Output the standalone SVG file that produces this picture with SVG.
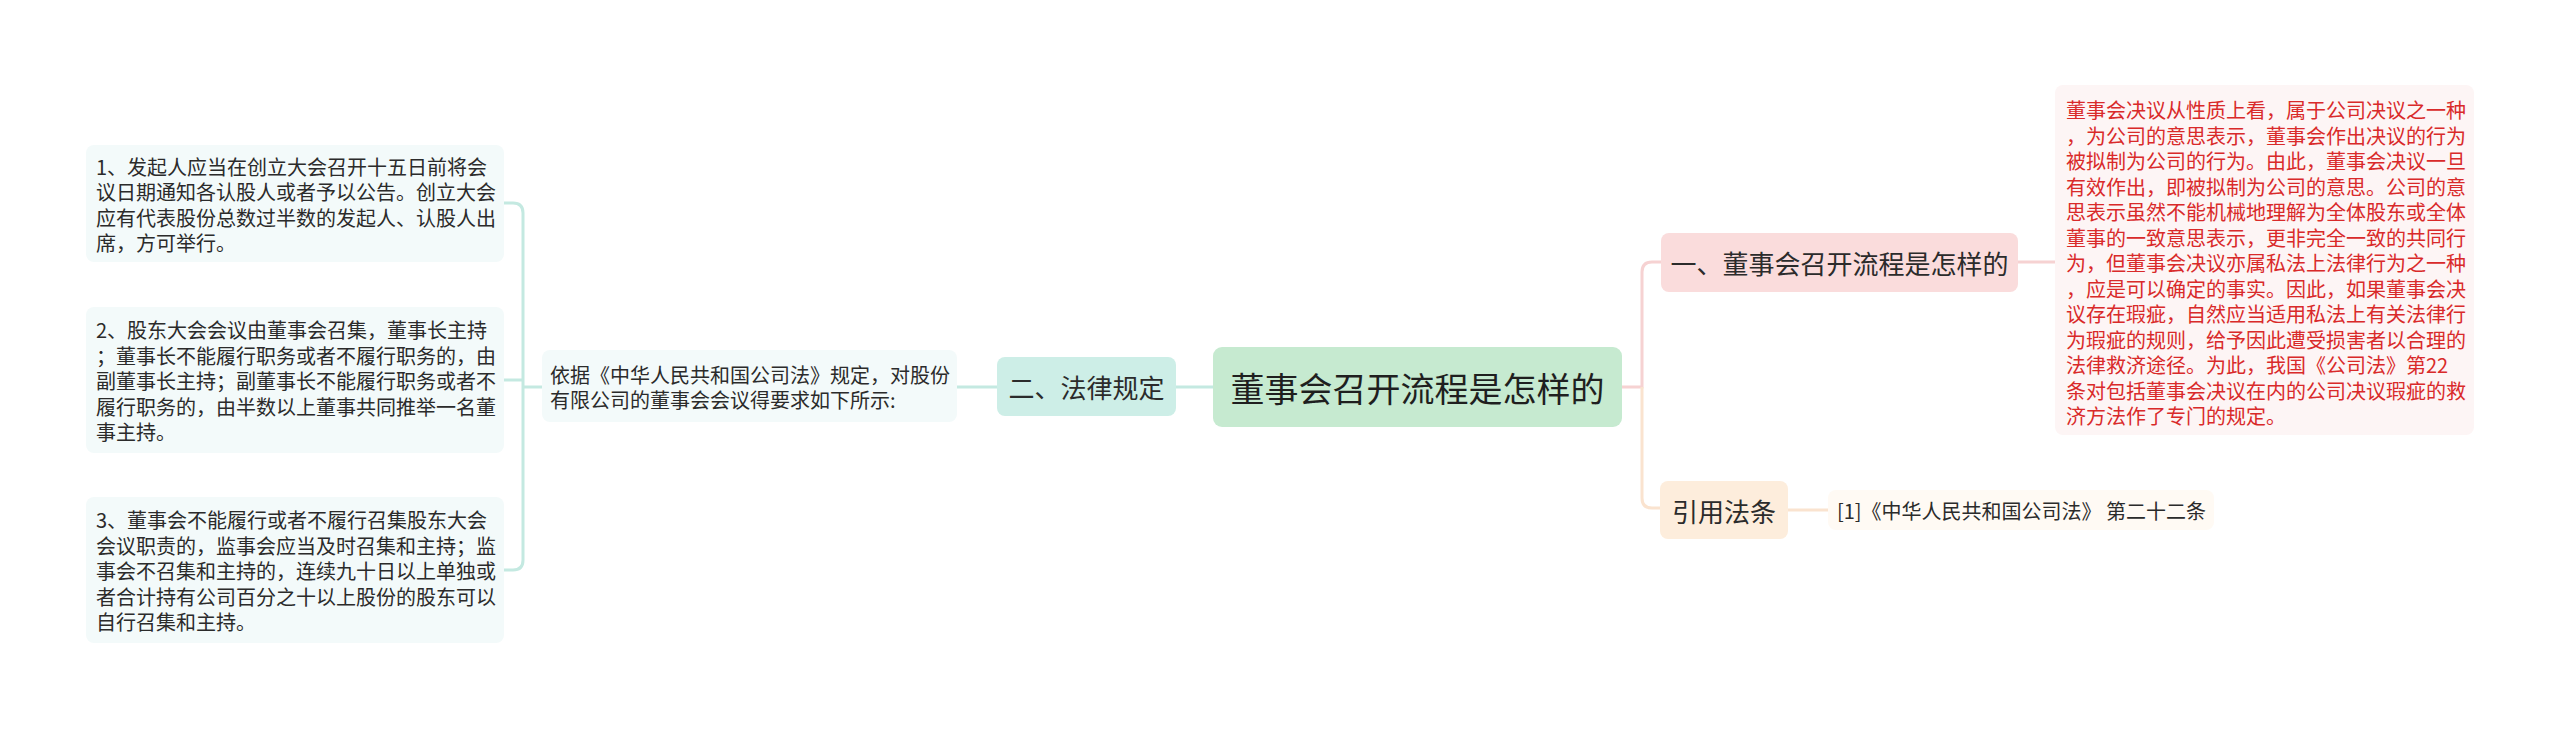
<svg xmlns="http://www.w3.org/2000/svg" width="2560" height="731" viewBox="0 0 2560 731">
<style>
text{font-family:"Noto Sans CJK SC","Noto Sans",sans-serif;dominant-baseline:central;fill:#2b2b2b}
.s{font-size:20px}
.m{font-size:26px;text-anchor:middle}
.c{font-size:34px;text-anchor:middle;fill:#1f1f1f}
.red{fill:#d92a2a}
.lt{fill:none;stroke:#c4e9e1;stroke-width:3}
.lp{fill:none;stroke:#f6d2d2;stroke-width:3}
.lo{fill:none;stroke:#fae3cf;stroke-width:3}
</style>
<rect width="2560" height="731" fill="#ffffff"/>
<g id="connectors">
<path class="lt" d="M504,203 H513 Q523,203 523,213 V560 Q523,570 513,570 H504"/>
<path class="lt" d="M504,380 H523"/>
<path class="lt" d="M523,387 H542"/>
<path class="lt" d="M957,387 H997"/>
<path class="lt" d="M1176,387 H1213"/>
<path class="lp" d="M1622,387 H1642 V272 Q1642,262 1652,262 H1661"/>
<path class="lo" d="M1642,387 V498 Q1642,508 1652,508 H1660"/>
<path class="lp" d="M2018,262 H2055"/>
<path class="lo" d="M1788,510 H1828"/>
</g>
<g id="center">
<rect x="1213" y="347" width="409" height="80" rx="9" fill="#c6ead0"/>
<text class="c" x="1417.5" y="387">董事会召开流程是怎样的</text>
</g>
<g id="n-falv">
<rect x="997" y="357" width="179" height="59" rx="8" fill="#cdeee7"/>
<text class="m" x="1086.5" y="386.5">二、法律规定</text>
</g>
<g id="n-yiju">
<rect x="542" y="350" width="415" height="72" rx="8" fill="#f3fafa"/>
<text class="s" x="550"><tspan x="550" y="373.5">依据《中华人民共和国公司法》规定，对股份</tspan><tspan x="550" y="399">有限公司的董事会会议得要求如下所示:</tspan></text>
</g>
<g id="c1">
<rect x="86" y="145" width="418" height="117" rx="8" fill="#f3fafa"/>
<text class="s"><tspan x="96" y="165.5">1、发起人应当在创立大会召开十五日前将会</tspan><tspan x="96" y="191">议日期通知各认股人或者予以公告。创立大会</tspan><tspan x="96" y="216.5">应有代表股份总数过半数的发起人、认股人出</tspan><tspan x="96" y="242">席，方可举行。</tspan></text>
</g>
<g id="c2">
<rect x="86" y="307" width="418" height="146" rx="8" fill="#f3fafa"/>
<text class="s"><tspan x="96" y="329">2、股东大会会议由董事会召集，董事长主持</tspan><tspan x="96" y="354.5">；董事长不能履行职务或者不履行职务的，由</tspan><tspan x="96" y="380">副董事长主持；副董事长不能履行职务或者不</tspan><tspan x="96" y="405.5">履行职务的，由半数以上董事共同推举一名董</tspan><tspan x="96" y="431">事主持。</tspan></text>
</g>
<g id="c3">
<rect x="86" y="497" width="418" height="146" rx="8" fill="#f3fafa"/>
<text class="s"><tspan x="96" y="519">3、董事会不能履行或者不履行召集股东大会</tspan><tspan x="96" y="544.5">会议职责的，监事会应当及时召集和主持；监</tspan><tspan x="96" y="570">事会不召集和主持的，连续九十日以上单独或</tspan><tspan x="96" y="595.5">者合计持有公司百分之十以上股份的股东可以</tspan><tspan x="96" y="621">自行召集和主持。</tspan></text>
</g>
<g id="n-yi">
<rect x="1661" y="233" width="357" height="59" rx="8" fill="#fadcdc"/>
<text class="m" x="1839.5" y="262.5">一、董事会召开流程是怎样的</text>
</g>
<g id="n-red">
<rect x="2055" y="85" width="419" height="350" rx="8" fill="#fdf5f5"/>
<text class="s red"><tspan x="2066" y="109">董事会决议从性质上看，属于公司决议之一种</tspan><tspan x="2066" y="134.5">，为公司的意思表示，董事会作出决议的行为</tspan><tspan x="2066" y="160">被拟制为公司的行为。由此，董事会决议一旦</tspan><tspan x="2066" y="185.5">有效作出，即被拟制为公司的意思。公司的意</tspan><tspan x="2066" y="211">思表示虽然不能机械地理解为全体股东或全体</tspan><tspan x="2066" y="236.5">董事的一致意思表示，更非完全一致的共同行</tspan><tspan x="2066" y="262">为，但董事会决议亦属私法上法律行为之一种</tspan><tspan x="2066" y="287.5">，应是可以确定的事实。因此，如果董事会决</tspan><tspan x="2066" y="313">议存在瑕疵，自然应当适用私法上有关法律行</tspan><tspan x="2066" y="338.5">为瑕疵的规则，给予因此遭受损害者以合理的</tspan><tspan x="2066" y="364">法律救济途径。为此，我国《公司法》第22</tspan><tspan x="2066" y="389.5">条对包括董事会决议在内的公司决议瑕疵的救</tspan><tspan x="2066" y="415">济方法作了专门的规定。</tspan></text>
</g>
<g id="n-yinyong">
<rect x="1660" y="481" width="128" height="58" rx="8" fill="#fdeddc"/>
<text class="m" x="1724" y="510">引用法条</text>
</g>
<g id="n-ref">
<rect x="1828" y="490" width="386" height="40" rx="8" fill="#fffaf4"/>
<text class="s" x="1837" y="510">[1]《中华人民共和国公司法》 第二十二条</text>
</g>
</svg>
